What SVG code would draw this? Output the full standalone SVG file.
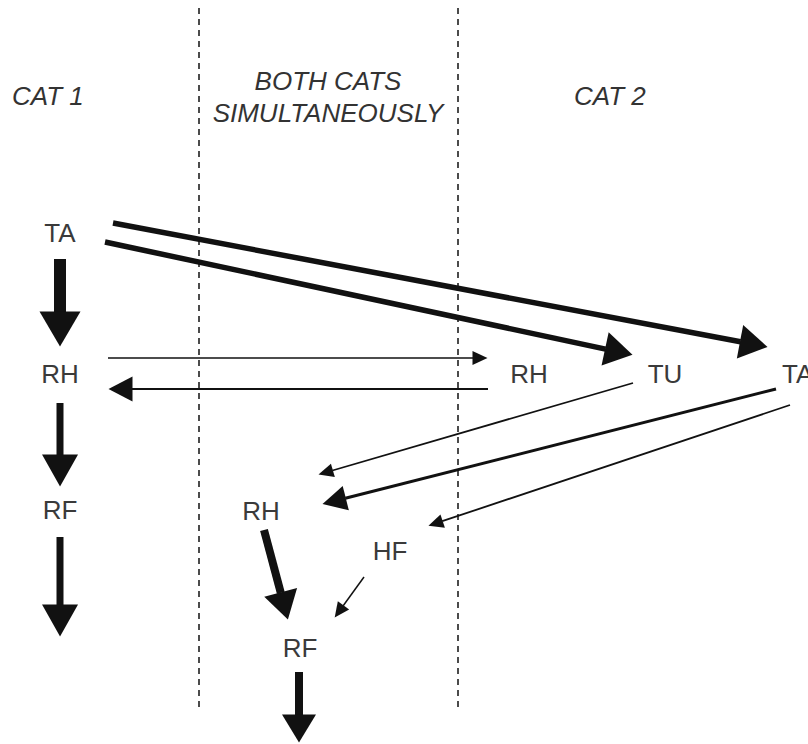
<svg xmlns="http://www.w3.org/2000/svg" width="808" height="744" viewBox="0 0 808 744">
  <style>
    .bg { fill: #ffffff; }
    .divider { stroke: #111; stroke-width: 1.5; stroke-dasharray: 6 5; fill: none; }
    .head { font-family: "Liberation Sans", Arial, sans-serif; font-style: italic; font-size: 26px; fill: #333; }
    .lbl { font-family: "Liberation Sans", Arial, sans-serif; font-size: 26px; fill: #3a3a3a; text-anchor: middle; }
    .lbl.edge-left { text-anchor: start; }
    .edge { stroke: #111; fill: none; stroke-linecap: butt; }
    .tip { fill: #111; stroke: none; }
  </style>
  <defs>
    <marker id="hA" markerUnits="userSpaceOnUse" markerWidth="40" markerHeight="44" refX="0.5" refY="0" orient="auto" overflow="visible">
      <path class="tip" d="M0,-20.5 L35,0 L0,20.5 Z"/>
    </marker>
    <marker id="hB" markerUnits="userSpaceOnUse" markerWidth="36" markerHeight="40" refX="0.5" refY="0" orient="auto" overflow="visible">
      <path class="tip" d="M0,-18 L32,0 L0,18 Z"/>
    </marker>
    <marker id="hC" markerUnits="userSpaceOnUse" markerWidth="32" markerHeight="36" refX="0.5" refY="0" orient="auto" overflow="visible">
      <path class="tip" d="M0,-17 L28,0 L0,17 Z"/>
    </marker>
    <marker id="hD" markerUnits="userSpaceOnUse" markerWidth="28" markerHeight="28" refX="0.5" refY="0" orient="auto" overflow="visible">
      <path class="tip" d="M0,-12.5 L24,0 L0,12.5 Z"/>
    </marker>
    <marker id="hE" markerUnits="userSpaceOnUse" markerWidth="18" markerHeight="18" refX="0.5" refY="0" orient="auto" overflow="visible">
      <path class="tip" d="M0,-7 L15,0 L0,7 Z"/>
    </marker>
  </defs>

  <rect class="bg" x="0" y="0" width="808" height="744"/>

  <!-- column dividers -->
  <g id="dividers">
    <line class="divider" x1="199" y1="8" x2="199" y2="708"/>
    <line class="divider" x1="458" y1="8" x2="458" y2="708"/>
  </g>

  <!-- column headings -->
  <g id="headings">
    <text class="head" x="12" y="105">CAT 1</text>
    <text class="head" x="328" y="90" text-anchor="middle">BOTH CATS</text>
    <text class="head" x="328" y="122" text-anchor="middle">SIMULTANEOUSLY</text>
    <text class="head" x="574" y="105">CAT 2</text>
  </g>

  <!-- nodes -->
  <g id="node-ta1"><text class="lbl" x="60" y="242">TA</text></g>
  <g id="node-rh1"><text class="lbl" x="60" y="383">RH</text></g>
  <g id="node-rf1"><text class="lbl" x="60" y="519">RF</text></g>
  <g id="node-rh2"><text class="lbl" x="529" y="383">RH</text></g>
  <g id="node-tu2"><text class="lbl" x="665" y="383">TU</text></g>
  <g id="node-ta2"><text class="lbl edge-left" x="782" y="383">TA</text></g>
  <g id="node-rh3"><text class="lbl" x="261" y="520">RH</text></g>
  <g id="node-hf3"><text class="lbl" x="390" y="560">HF</text></g>
  <g id="node-rf3"><text class="lbl" x="300" y="657">RF</text></g>

  <!-- connectors -->
  <g id="connectors">
    <!-- cat 1 vertical chain -->
    <path class="edge" stroke-width="12" d="M60,259 L60,312" marker-end="url(#hA)"/>
    <path class="edge" stroke-width="7" d="M60,403 L60,455" marker-end="url(#hB)"/>
    <path class="edge" stroke-width="7" d="M60,537 L60,605" marker-end="url(#hB)"/>

    <!-- RH exchange between cats -->
    <path class="edge" stroke-width="1.6" d="M108,358 L473,358" marker-end="url(#hE)"/>
    <path class="edge" stroke-width="2" d="M488,389 L132,389" marker-end="url(#hD)"/>

    <!-- TA of cat 1 to TU and TA of cat 2 -->
    <path class="edge" stroke-width="5.5" d="M105,242 L605.6,349.1" marker-end="url(#hC)"/>
    <path class="edge" stroke-width="5.5" d="M113,223 L740.5,341.8" marker-end="url(#hC)"/>

    <!-- cat 2 back to shared RH / HF -->
    <path class="edge" stroke-width="1.8" d="M633,383 L332.4,470.5" marker-end="url(#hE)"/>
    <path class="edge" stroke-width="3" d="M776,389 L345.3,498.3" marker-end="url(#hD)"/>
    <path class="edge" stroke-width="1.8" d="M790,405 L442.2,521.2" marker-end="url(#hE)"/>

    <!-- shared RH and HF into RF -->
    <path class="edge" stroke-width="8" d="M264,530 L280.8,592.9" marker-end="url(#hC)"/>
    <path class="edge" stroke-width="1.5" d="M364,577 L343.2,605.7" marker-end="url(#hE)"/>

    <!-- RF out -->
    <path class="edge" stroke-width="8" d="M299,672 L299,715" marker-end="url(#hC)"/>
  </g>
</svg>
